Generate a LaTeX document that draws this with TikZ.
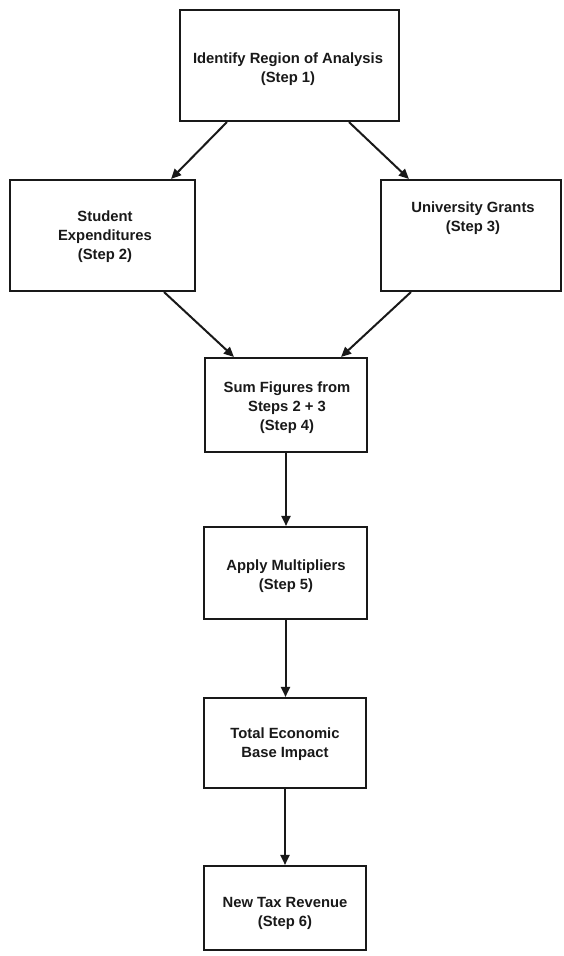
\documentclass[tikz,border=0pt]{standalone}
\usepackage{fontspec}
\setmainfont{Liberation Sans}
\usetikzlibrary{arrows.meta,calc}
\begin{document}
\begin{tikzpicture}[x=1pt,y=-1pt,
  box/.style={draw=black!90, line width=2.1pt, rectangle, inner sep=0pt, fill=white},
  lbl/.style={align=center, font=\bfseries\fontsize{14.8}{19}\selectfont, text=black!90, inner sep=0pt},
  arr/.style={draw=black!90, line width=2pt, -{Triangle[length=10pt,width=9pt]}}]
\useasboundingbox (0,0) rectangle (563,956);
% boxes
\node[box, minimum width=219pt, minimum height=111pt] (b1) at (289.5,65.5) {};
\node[box, minimum width=185pt, minimum height=111pt] (b2) at (102.5,235.5) {};
\node[box, minimum width=180pt, minimum height=111pt] (b3) at (471,235.5) {};
\node[box, minimum width=162pt, minimum height=94pt] (b4) at (286,405) {};
\node[box, minimum width=163pt, minimum height=92pt] (b5) at (285.5,573) {};
\node[box, minimum width=162pt, minimum height=90pt] (b6) at (285,743) {};
\node[box, minimum width=162pt, minimum height=84pt] (b7) at (285,908) {};
% texts
\node[lbl] (t1) at (288,69.5) {Identify Region of Analysis\\(Step 1)};
\node[lbl] (t2) at (105,237) {Student\\Expenditures\\(Step 2)};
\node[lbl] (t3) at (473,218) {University Grants\\(Step 3)};
\node[lbl] (t4) at (287,408) {Sum Figures from\\Steps 2 + 3\\(Step 4)};
\node[lbl] (t5) at (286,576) {Apply Multipliers\\(Step 5)};
\node[lbl] (t6) at (285,744) {Total Economic\\Base Impact};
\node[lbl] (t7) at (285,913) {New Tax Revenue\\(Step 6)};
% connectors
\draw[arr] ($(b1.south west)+(48,0)$) -- ($(b2.north east)+(-25,0)$);
\draw[arr] ($(b1.south west)+(170,0)$) -- ($(b3.north west)+(29,0)$);
\draw[arr] ($(b2.south east)+(-32,0)$) -- ($(b4.north west)+(30,0)$);
\draw[arr] ($(b3.south west)+(31,0)$) -- ($(b4.north east)+(-27,0)$);
\draw[arr] (b4.south) -- (b4.south |- b5.north);
\draw[arr] (b5.south) -- (b5.south |- b6.north);
\draw[arr] (b6.south) -- (b6.south |- b7.north);
\end{tikzpicture}
\end{document}
